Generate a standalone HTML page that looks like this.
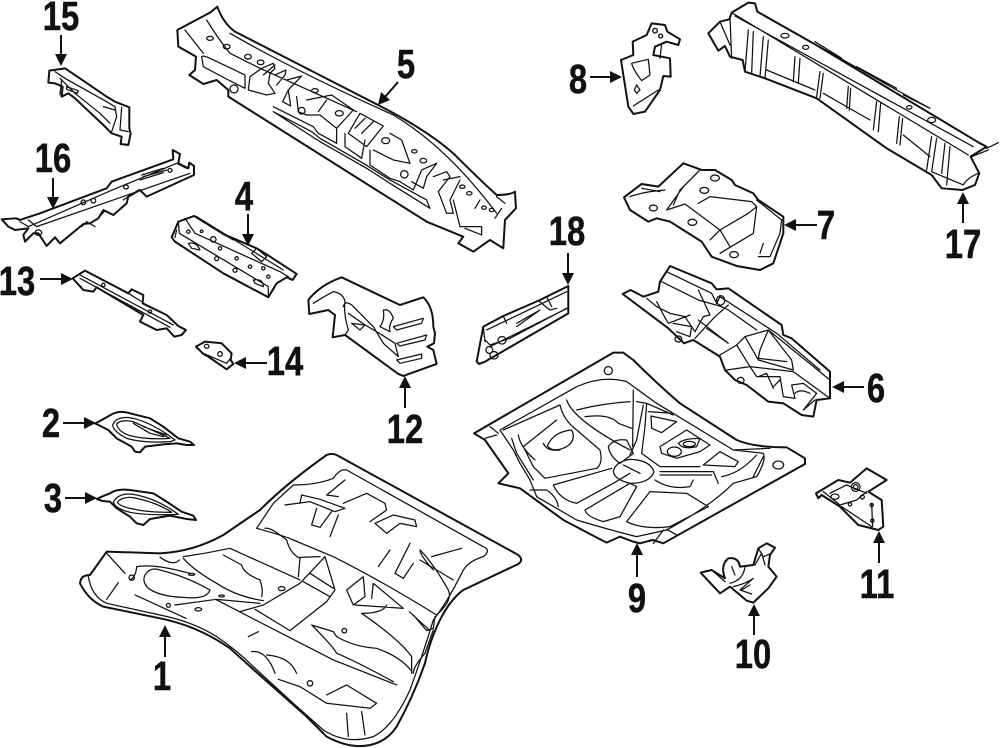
<!DOCTYPE html>
<html><head><meta charset="utf-8"><style>
html,body{margin:0;padding:0;background:#fff}
svg{display:block}
path{fill:none;stroke:#111;stroke-width:1.25;stroke-linejoin:round;stroke-linecap:round;vector-effect:non-scaling-stroke}
.o path.t{stroke-width:2}
.k{fill:#111;stroke:none}
text{font-family:"Liberation Sans",sans-serif;font-weight:bold;font-size:41px;fill:#111;stroke:#111;stroke-width:.5;text-anchor:middle}
.a line{stroke:#111;stroke-width:2}
</style></head><body>
<svg xmlns="http://www.w3.org/2000/svg" width="1000" height="748" viewBox="0 0 1000 748">
<rect width="1000" height="748" fill="#fff"/>
<g class="o">
<!-- part 1 -->
<g transform="translate(60 440) scale(.3333)">
<path class="t" d="M140,335 L300,340 Q400,335 490,285 L600,210 Q680,130 800,45 Q815,38 830,45 L1375,345 Q1392,360 1375,372 L1210,450 Q1170,480 1140,540 Q1110,600 1095,670 Q1060,770 1010,860 Q980,905 930,915 Q870,928 800,890 L740,830 L650,750 Q570,680 510,625 Q460,590 400,565 Q350,545 300,535 L130,500 Q85,480 60,430 Q62,405 90,405 Z"/>
<path d="M85,410 Q95,470 140,490 L300,525 Q400,545 470,590 Q530,630 580,680 L700,790 L790,870 Q860,915 940,890 Q1000,860 1050,750 Q1090,640 1120,540 Q1160,490 1205,400 Q1220,365 1270,350 Q1295,330 1270,320 L860,90 Q840,85 820,115 Q770,135 700,135 L640,190 L590,265 Q680,290 700,300 L820,350 Q960,420 1130,525 Q1180,480 1165,450 Q1120,370 1080,330 Q1080,345 1120,390"/>
<path d="M140,340 L195,400 M175,428 L140,478 M370,350 Q440,340 510,325 L720,420 M490,345 L545,375 Q550,400 600,420 Q610,450 605,470 M370,355 Q400,390 470,430 Q530,470 610,482 M230,380 Q280,370 390,400 M230,380 Q228,410 210,420 M255,405 Q270,380 300,390 Q380,410 450,450 Q440,480 370,472 Q300,470 265,445 Q245,425 255,405Z M225,465 L378,535 M345,495 L470,478 L600,490 M470,480 L820,660 L1010,735 M540,515 L610,495 L720,430 L795,350 L825,450 L800,485 L690,572 L585,508 M730,425 L810,470 M750,400 L820,445 M300,352 Q340,380 358,360 M615,265 Q630,260 680,300 Q690,340 720,355 L715,410 M720,352 L780,350 M860,450 L910,410 L915,470 L880,495 Z M885,495 L1030,505 L940,430 L935,475 M905,520 Q970,520 980,495 M905,520 Q1020,600 1055,650 L1055,700 M755,555 L820,575 L830,590 Q880,620 950,625 Q1020,650 1052,690 M755,555 Q820,620 830,640 Q880,660 1000,725 M800,765 L860,735 L950,790 L930,805 L800,790 L720,740 L655,718 M575,635 Q620,630 645,700 M620,645 Q690,650 710,700 M565,590 L595,575 M860,820 L865,890 M905,815 L915,885 M720,190 L725,165 L780,178 L855,205 L825,215 L750,185 L675,195 M770,205 L755,255 L780,262 L815,215 M835,170 L800,165 M855,120 L800,165 M850,190 L920,160 L975,190 L980,210 L930,245 M945,250 L1000,225 L1065,240 L1070,260 L1020,250 L980,280 Z M810,290 L835,225 M990,330 L955,380 M1050,310 L1005,400 L1030,415 L1060,370 M1080,360 L1180,420 M1115,350 L1205,325 M1048,515 L1110,572 M1060,525 L1100,572 L1120,565 L1125,530 M1120,570 L1095,640 Q1060,680 1060,700"/>
<path d="M215,405 a8,8 0 1 0 .1,0Z M325,490 a6,6 0 1 0 .1,0Z M415,508 m-10,0 a10,5 0 1 0 20,0 a10,5 0 1 0 -20,0Z M485,468 m-8,0 a8,3 0 1 0 16,0 a8,3 0 1 0 -16,0Z M395,403 m-9,0 a9,3 0 1 0 18,0 a9,3 0 1 0 -18,0Z M665,446 m-10,0 a10,6 0 1 0 20,0 a10,6 0 1 0 -20,0Z M853,565 a7,7 0 1 0 .1,0Z M750,722 a8,8 0 1 0 .1,0Z"/>
</g>
<!-- parts 2 & 3 -->
<g transform="translate(30 395) scale(.3333)">
<path class="t" d="M195,85 L210,78 L245,58 Q270,45 300,55 L360,70 L400,95 L445,130 L480,140 L492,150 L470,150 L440,145 L400,148 L345,155 L330,172 L315,170 L305,155 L260,130 L235,105 L215,95 Z"/>
<path d="M248,90 Q260,60 310,70 Q370,85 435,135 L420,140 Q340,145 290,130 Q250,110 248,90Z M260,88 Q270,72 310,80 L420,130 Q350,135 300,122 Q265,110 260,88Z M310,85 L360,115 L400,125 M340,95 L410,120"/>
<path class="t" d="M200,312 L215,305 L240,295 Q260,280 300,285 L370,295 L410,320 L455,350 L490,362 L498,375 L470,372 L420,362 L360,372 L340,390 L320,385 L300,365 L260,340 L240,320 L218,318 Z"/>
<path d="M250,322 Q265,292 310,298 Q380,310 445,358 Q350,362 300,352 Q255,340 250,322Z M262,322 Q275,304 310,308 Q380,322 425,352 Q350,352 310,342 Q270,335 262,322Z"/>
</g>
<!-- part 5 -->
<g transform="translate(160 0) scale(.3333)">
<path class="t" d="M52,90 L150,38 L172,20 Q190,70 225,95 L660,318 Q800,390 880,460 Q960,540 1010,585 Q1050,585 1065,575 L1068,625 L1035,660 L1030,745 L990,720 L940,755 L895,730 L910,710 L800,665 L205,290 L205,270 L170,240 L130,252 L88,225 L105,210 L108,170 L55,140 Z"/>
<path d="M75,90 L130,160 M140,60 Q170,110 210,160 L300,205 L590,335 M210,100 Q400,210 700,345 Q860,440 1010,640 M125,170 Q130,165 150,175 L255,225 L255,265 L205,240 L130,200 Z M222,255 a12,12 0 1 0 .1,0Z M265,270 L270,230 L305,205 L340,190 L345,205 L330,220 L325,250 L345,280 L320,285 L265,270 M310,225 L345,195 M345,225 L378,210 L375,225 L350,255 M380,240 L425,228 L385,270 L368,305 L392,318 L385,270 M410,290 L415,335 L440,345 L480,345 M440,300 L515,285 L580,330 L530,385 L480,345 M500,300 L475,335 M340,320 L460,380 L475,400 L530,430 L530,385 M340,335 L455,395 L480,415 L610,490 L690,540 L800,600 L810,625 L690,550 L620,505 L480,425 L340,335 M565,400 L600,340 L670,378 L620,440 L565,400 M585,385 L615,355 M605,400 L640,365 M555,400 L555,440 L605,475 L615,420 M630,450 L630,495 L690,535 L720,545 L760,570 L785,510 L830,490 L800,530 L790,565 L755,545 M640,450 L700,480 L750,490 L725,420 L690,400 M820,530 L860,515 L870,530 L835,575 L860,640 L880,640 L870,600 L900,540 M850,540 L900,530 M880,600 L900,680 L965,680 L965,705 L915,685 M960,600 L945,625 M1025,625 L1005,655 M1010,590 L1035,610"/>
<path d="M150,115 m-10,0 a10,6 0 1 0 20,0 a10,6 0 1 0 -20,0Z M200,140 m-10,0 a10,7 0 1 0 20,0 a10,7 0 1 0 -20,0Z M264,170 m-10,0 a10,7 0 1 0 20,0 a10,7 0 1 0 -20,0Z M302,187 m-10,0 a10,7 0 1 0 20,0 a10,7 0 1 0 -20,0Z M465,272 m-10,0 a10,6 0 1 0 20,0 a10,6 0 1 0 -20,0Z M425,322 a10,10 0 1 0 .1,0Z M538,340 m-12,0 a12,8 0 1 0 24,0 a12,8 0 1 0 -24,0Z M677,422 m-12,0 a12,9 0 1 0 24,0 a12,9 0 1 0 -24,0Z M763,454 m-8,0 a8,5 0 1 0 16,0 a8,5 0 1 0 -16,0Z M790,482 m-10,0 a10,7 0 1 0 20,0 a10,7 0 1 0 -20,0Z M733,512 a11,11 0 1 0 .1,0Z M907,560 m-8,0 a8,5 0 1 0 16,0 a8,5 0 1 0 -16,0Z M928,580 m-8,0 a8,5 0 1 0 16,0 a8,5 0 1 0 -16,0Z M972,623 m-7,0 a7,5 0 1 0 14,0 a7,5 0 1 0 -14,0Z M995,630 m-7,0 a7,5 0 1 0 14,0 a7,5 0 1 0 -14,0Z"/>
</g>
<!-- parts 15,16,4,13,14 -->
<g transform="scale(.3333)">
<path class="t" d="M148,212 L195,205 L235,232 L320,290 L345,305 L388,322 L388,385 L392,400 L385,435 L362,432 L365,410 L335,400 L310,375 L225,295 L205,280 L185,290 L188,260 L165,250 L145,248 Z"/>
<path d="M165,215 L195,235 L320,305 L345,320 L350,350 L335,395 M180,235 L225,280 L300,340 L330,370 M200,260 L235,272 L232,280 L200,268Z M310,320 L345,330 M365,322 L360,390 L385,395 M185,240 L180,285"/>
<path class="t" d="M5,658 L48,655 L60,660 L120,640 L320,565 L335,545 L520,478 L518,450 L540,462 L535,490 L565,505 L568,488 L582,498 L582,525 L440,590 L420,570 L385,590 L380,610 L340,645 L310,630 L295,655 L270,670 L250,672 L180,730 L165,712 L140,738 L115,700 L100,700 L75,725 L70,705 L85,685 L45,690 L25,680 Z"/>
<path d="M60,665 L85,680 L325,575 L530,490 L560,505 M85,660 L110,680 L570,520 M430,530 L500,510 M420,540 L490,518 M425,525 L490,505 M115,690 a10,8 0 1 0 .1,0 M250,600 a7,7 0 1 0 .1,0 M280,595 a7,7 0 1 0 .1,0 M378,555 a7,6 0 1 0 .1,0 M510,505 a6,6 0 1 0 .1,0 M290,660 L315,632 L340,645 M370,600 L415,570 M245,680 L260,665 L285,680"/>
<path class="t" d="M515,712 L535,665 L583,648 L675,705 L700,715 L770,745 L795,760 L890,822 L878,840 L860,832 L830,850 L805,892 L670,820 L525,725 Z"/>
<path d="M535,665 L538,700 L805,860 L805,892 M555,655 L585,700 L840,815 L865,830 M525,712 L530,690 M590,650 L850,810 M675,705 L700,720 M770,745 L800,770 L785,785 L755,760 Z M565,730 Q590,725 600,750 L575,745Z M760,840 Q790,835 790,860 L765,850Z M565,690 a5,5 0 1 0 .1,0 M605,690 a4,4 0 1 0 .1,0 M640,710 a8,8 0 1 0 .1,0 M660,740 a5,5 0 1 0 .1,0 M710,770 a5,5 0 1 0 .1,0 M750,795 a5,5 0 1 0 .1,0 M790,800 a5,5 0 1 0 .1,0 M805,825 a5,5 0 1 0 .1,0 M650,770 a6,6 0 1 0 .1,0 M705,805 a6,6 0 1 0 .1,0"/>
<path class="t" d="M218,835 L255,812 L385,880 L395,868 L430,885 L428,910 L500,945 L535,978 L558,990 L545,1005 L523,1010 L500,985 L470,990 L420,965 L430,945 L290,862 L280,875 L250,870 Z"/>
<path d="M240,825 L520,975 M240,835 L510,982 M385,880 L425,905 M310,850 a5,5 0 1 0 .1,0 M450,930 a5,5 0 1 0 .1,0"/>
<path class="t" d="M588,1040 L615,1025 L665,1030 L695,1060 L692,1080 L700,1092 L680,1108 L625,1070 L610,1062 Z"/>
<path d="M610,1060 L680,1090 L692,1075 M620,1033 a7,6 0 1 0 .1,0 M660,1055 a7,7 0 1 0 .1,0"/>
</g>
<!-- part 9 -->
<g transform="translate(470 340) scale(.3333)">
<path class="t" d="M12,280 L430,38 L460,38 L490,60 Q560,130 630,190 L800,300 Q850,322 950,322 L1005,355 L1005,372 L580,610 L548,600 L510,610 L490,605 L450,590 L410,608 L375,590 L280,540 L150,445 L85,430 L115,400 L45,300 Z"/>
<path d="M60,260 L85,280 M45,295 L80,285 M90,270 Q250,180 320,140 Q400,105 470,125 L560,190 L790,330 L880,340 Q890,360 860,410 L790,430 Q720,500 590,570 L500,590 Q420,570 320,540 L200,470 L180,420 L150,370 L130,330 L90,270 M100,270 L270,195 Q280,240 320,270 L390,330 Q400,370 380,385 L225,415 L190,380 L160,320 M160,320 L260,240 M125,295 L140,340 L190,420 M145,285 Q150,320 195,360 M290,180 Q310,240 480,330 M320,210 Q400,190 480,185 M345,230 Q420,220 445,250 L485,265 M490,150 L488,320 M500,185 L530,190 L525,260 L515,340 L570,380 L690,380 M530,190 L610,225 M535,215 L610,220 M520,195 L500,300 L480,345 M543,228 L620,245 L575,278 L545,265 Z M570,320 L650,270 L720,315 L690,335 L620,355 L575,340 Z M700,375 L750,335 L805,365 L795,380 L700,375 M570,395 L730,395 L745,430 M570,405 L725,405 M755,410 Q810,400 860,345 M850,410 L880,350 M555,420 Q600,450 660,440 L670,420 M415,320 Q430,295 470,300 L490,340 L450,370 Q420,350 415,320 M430,395 Q435,365 480,358 Q540,360 552,395 Q540,430 480,430 Q435,420 430,395Z M250,435 L425,385 M250,435 Q270,480 320,490 L430,430 L480,400 M345,510 L480,430 L500,440 L450,530 L400,545 Q350,530 345,510 M470,545 L540,455 L650,460 L715,500 M470,545 Q520,570 600,560 L715,500 M460,375 L510,400 M180,450 L230,450 Q260,470 265,500 M580,570 L550,610 M590,568 L620,585 M790,330 L900,325"/>
<path d="M415,80 a12,12 0 1 0 .1,0Z M925,375 m-16,0 a16,12 0 1 0 32,0 a16,12 0 1 0 -32,0Z M232,318 Q250,275 305,270 Q320,300 290,320 Q250,340 232,318Z M220,310 Q230,335 270,330 M625,310 Q640,295 690,295 L680,320 Q640,330 625,310Z M640,312 a18,8 0 1 0 36,0 a18,8 0 1 0 -36,0Z M592,335 a21,14 0 1 0 42,0 a21,14 0 1 0 -42,0Z"/>
</g>
<!-- part 10, 11 -->
<g transform="translate(690 450) scale(.3333)">
<path class="t" d="M32,368 L65,360 L105,385 Q90,345 115,325 Q145,320 150,350 L190,345 L205,295 L230,280 L255,293 L240,315 L235,350 L260,380 L235,415 L190,458 L170,452 L120,410 L90,430 Z"/>
<path d="M205,295 L220,320 L240,312 M195,345 L215,310 L225,345 M120,400 Q160,390 165,350 M130,410 Q170,400 190,385 L150,420 L185,432 M155,420 L180,405 M65,360 L105,395 M125,350 L135,375"/>
<path class="t" d="M378,130 L445,90 L480,98 L530,55 L590,90 L535,125 L575,150 L580,230 L565,240 L505,225 L450,170 L395,135 L385,145 Z"/>
<path d="M400,125 L450,165 L500,150 L530,125 M420,130 L470,105 L530,130 M455,170 L545,230 M545,160 L548,230 M435,140 m-12,0 a12,8 0 1 0 24,0 a12,8 0 1 0 -24,0Z M497,98 a13,13 0 1 0 .1,0 M497,104 a7,7 0 1 0 .1,0 M480,158 a5,5 0 1 0 .1,0 M517,135 a6,6 0 1 0 .1,0 M545,160 a5,5 0 1 0 .1,0 M547,207 a5,5 0 1 0 .1,0"/>
</g>
<!-- part 12, 18 -->
<g transform="translate(290 210) scale(.3333)">
<path class="t" d="M55,270 Q90,225 155,202 L330,285 L400,262 Q430,290 430,350 L435,370 L432,400 L412,410 L430,420 L440,462 L340,498 L325,492 L165,375 L128,382 L135,315 L115,300 L58,312 Z"/>
<path d="M70,280 Q100,260 130,245 Q160,250 165,275 Q160,310 175,360 L165,375 M160,290 Q165,270 185,285 L250,350 L280,400 L325,440 L315,400 L260,365 L225,345 L210,360 L185,340 L225,345 L175,310 M280,300 Q300,295 310,325 Q295,345 300,365 L270,350 Q285,330 280,300Z M310,350 L400,325 L395,340 L320,360 Z M320,400 L410,375 L405,390 L330,408 Z M320,450 L395,432 L395,445 L330,460 Z"/>
<path class="t" d="M560,455 L580,350 L640,318 L750,270 L835,228 L835,310 L585,455 L568,462 Z"/>
<path d="M580,350 L585,395 M590,360 L830,245 M600,410 L832,295 M660,385 L830,295 M680,340 L750,300 L680,350 M745,272 L780,300 L800,295 M770,260 L785,290 M640,318 L650,340 M598,410 a10,10 0 1 0 .1,0 M612,425 a12,11 0 1 0 .1,0 M636,380 a12,11 0 1 0 .1,0 M585,390 L600,405 L660,385"/>
</g>
<!-- part 8, 7, 17 -->
<g transform="translate(610 0) scale(.3333)">
<path class="t" d="M33,180 L70,165 L68,125 L110,105 L125,70 L165,75 L172,95 L210,118 L205,135 L170,125 L135,140 L130,165 L180,175 L182,230 L160,228 L150,270 L105,335 L70,342 L55,320 Z"/>
<path d="M65,190 L115,178 L120,225 L95,242 Q70,210 65,190Z M80,255 L90,270 L80,280 L73,270 Z M70,318 L145,270 M135,85 a7,7 0 1 0 .1,0 M152,102 a6,6 0 1 0 .1,0 M155,130 L150,175"/>
<path class="t" d="M42,592 L95,552 L145,560 L220,490 L275,510 L315,510 L365,540 L375,555 L430,580 L445,600 L520,650 L520,700 L490,790 L450,810 L380,798 L305,770 L275,725 L180,665 L140,655 L115,665 L60,630 Z"/>
<path d="M60,590 Q100,575 165,570 M95,565 L150,575 M170,630 L220,560 L265,515 M190,615 L210,570 L270,510 M170,630 L225,612 L330,690 L415,640 L440,620 L425,605 L300,590 L265,610 M330,690 L360,740 M330,690 L300,720 M330,760 L430,700 L440,620 M440,600 L515,660 L510,700 L480,770 L445,770 M450,760 L460,730 M130,615 a12,9 0 1 0 .1,0Z M315,525 a13,9 0 1 0 .1,0Z M283,562 a13,9 0 1 0 .1,0Z M247,658 a13,9 0 1 0 .1,0Z M372,755 a13,9 0 1 0 .1,0Z"/>
<path class="t" d="M295,100 L330,65 L358,58 L365,38 L415,8 L435,10 L442,35 L610,130 L1110,430 L1130,440 L1082,470 L1108,520 L1095,555 L1058,570 L995,565 L965,525 L830,445 L620,295 L465,235 L405,215 L398,180 L360,170 L345,138 L325,152 Z"/>
<path d="M365,38 L1075,465 M375,48 L1090,440 M330,65 L360,135 M360,50 L365,175 M415,90 L405,215 M430,95 L425,220 M460,110 L450,230 M475,120 L465,235 M470,210 L615,270 M555,170 L550,245 M570,175 L565,250 M630,215 L620,290 M640,220 L630,295 M640,280 L780,360 M715,260 L710,325 M722,265 L718,330 M800,305 L790,390 M812,310 L805,395 M868,350 L860,430 M878,355 L870,435 M880,405 L960,470 M965,410 L950,510 M980,415 L965,515 M1005,430 L995,520 M1020,440 L1010,555 M965,515 L1060,555 M1060,555 Q1070,535 1105,520 M610,130 L700,180 L860,270 L960,325 M615,125 L695,175 M740,200 L860,265 M880,285 L960,325 M1130,445 L1165,428 M1085,470 L1135,450"/>
<path d="M525,107 m-12,0 a12,7 0 1 0 24,0 a12,7 0 1 0 -24,0Z M587,142 m-9,0 a9,6 0 1 0 18,0 a9,6 0 1 0 -18,0Z M898,322 m-8,0 a8,5 0 1 0 16,0 a8,5 0 1 0 -16,0Z M965,360 m-12,0 a12,8 0 1 0 24,0 a12,8 0 1 0 -24,0Z"/>
</g>
<!-- part 6 -->
<g transform="translate(610 260) scale(.3333)">
<path class="t" d="M38,102 L62,90 L100,110 L145,95 L150,65 L180,18 L305,70 L320,88 L355,85 L515,195 L520,225 L545,235 L660,335 L660,415 L620,420 L610,470 L575,465 L520,430 L475,425 L410,375 L375,360 L345,330 L330,290 L250,240 L222,250 L175,205 Z"/>
<path d="M155,65 L265,120 L335,140 L355,150 L440,210 M170,35 L305,100 L320,130 L330,110 L500,220 M110,115 L140,140 L180,160 L225,170 L255,215 L280,170 L300,165 L265,90 M140,125 Q160,165 175,190 L240,165 M190,190 L245,200 L240,230 L200,215 M290,205 L355,250 L265,180 M255,235 L315,170 L355,135 M330,285 L380,255 L405,230 L445,300 L550,330 L545,300 L475,210 L405,230 M475,210 L450,270 L445,295 L530,305 M380,255 L420,320 L350,330 M420,320 L550,335 L660,415 M475,210 L660,360 M500,220 L630,330 M420,320 L440,350 L510,350 L520,410 L555,415 L545,375 L580,370 L620,400 L580,450 L615,420 M445,350 L470,340 L490,385 M490,380 L510,360 M320,120 a12,14 0 1 0 .1,-1Z M205,228 a10,9 0 1 0 .1,0Z M392,352 a10,9 0 1 0 .1,0Z M555,400 Q570,385 600,400"/>
</g>
</g>

<!-- arrows -->
<g class="a">
<line x1="61" y1="35" x2="61" y2="55"/><polygon class="k" points="61,66 55,54 67,54"/>
<line x1="398" y1="82" x2="385" y2="97"/><polygon class="k" points="378,105 381,92 390,100"/>
<line x1="590" y1="77" x2="612" y2="77"/><polygon class="k" points="622,77 610,71 610,83"/>
<line x1="53" y1="178" x2="53" y2="198"/><polygon class="k" points="53,209 47,197 59,197"/>
<line x1="248" y1="214" x2="248" y2="236"/><polygon class="k" points="248,246 242,234 254,234"/>
<line x1="568" y1="253" x2="568" y2="275"/><polygon class="k" points="568,285 562,273 574,273"/>
<line x1="817" y1="225" x2="795" y2="225"/><polygon class="k" points="784,225 796,219 796,231"/>
<line x1="963" y1="223" x2="963" y2="203"/><polygon class="k" points="963,192 957,204 969,204"/>
<line x1="40" y1="279" x2="62" y2="279"/><polygon class="k" points="73,279 61,273 61,285"/>
<line x1="267" y1="363" x2="245" y2="363"/><polygon class="k" points="234,363 246,357 246,369"/>
<line x1="405" y1="408" x2="405" y2="386"/><polygon class="k" points="405,376 399,388 411,388"/>
<line x1="864" y1="387" x2="842" y2="387"/><polygon class="k" points="832,387 844,381 844,393"/>
<line x1="63" y1="423" x2="85" y2="423"/><polygon class="k" points="96,423 84,417 84,429"/>
<line x1="65" y1="498" x2="87" y2="498"/><polygon class="k" points="97,498 85,492 85,504"/>
<line x1="165" y1="657" x2="165" y2="635"/><polygon class="k" points="165,625 159,637 171,637"/>
<line x1="637" y1="577" x2="637" y2="553"/><polygon class="k" points="637,543 631,555 643,555"/>
<line x1="754" y1="635" x2="754" y2="614"/><polygon class="k" points="754,604 748,616 760,616"/>
<line x1="879" y1="563" x2="879" y2="541"/><polygon class="k" points="879,531 873,543 885,543"/>
</g>

<!-- labels -->
<g>
<text transform="translate(61 30) scale(.8 1)">15</text>
<text transform="translate(406 78) scale(.8 1)">5</text>
<text transform="translate(578 93) scale(.8 1)">8</text>
<text transform="translate(53 172) scale(.8 1)">16</text>
<text transform="translate(244 210) scale(.8 1)">4</text>
<text transform="translate(567 245) scale(.8 1)">18</text>
<text transform="translate(826 239) scale(.8 1)">7</text>
<text transform="translate(963 258) scale(.8 1)">17</text>
<text transform="translate(17 295) scale(.8 1)">13</text>
<text transform="translate(285 375) scale(.8 1)">14</text>
<text transform="translate(405 443) scale(.8 1)">12</text>
<text transform="translate(876 402) scale(.8 1)">6</text>
<text transform="translate(51 437) scale(.8 1)">2</text>
<text transform="translate(53 512) scale(.8 1)">3</text>
<text transform="translate(162 690) scale(.8 1)">1</text>
<text transform="translate(637 612) scale(.8 1)">9</text>
<text transform="translate(753 668) scale(.8 1)">10</text>
<text transform="translate(877 598) scale(.8 1)">11</text>
</g>
</svg>
</body></html>
